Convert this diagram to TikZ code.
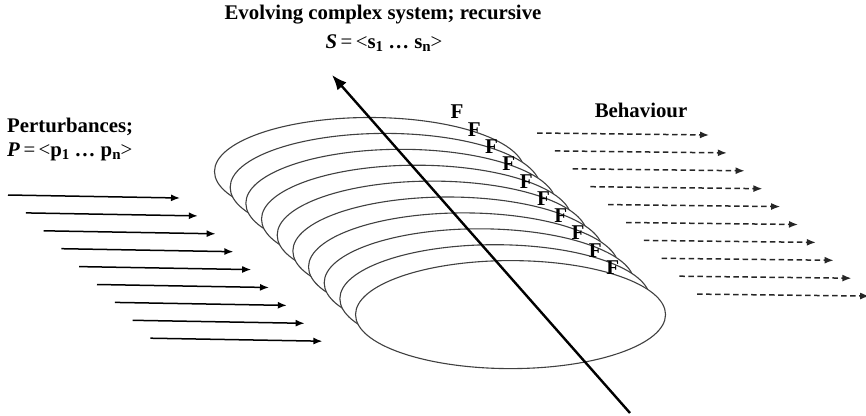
\documentclass[tikz,border=0pt]{standalone}
\usepackage{fontspec}
\setmainfont{Liberation Serif}
\usetikzlibrary{arrows.meta}
\newcommand{\mysub}[1]{\raisebox{-0.35ex}{\fontsize{15}{15}\selectfont #1}}
\begin{document}
\begin{tikzpicture}[x=1pt,y=-1pt,
  lbl/.style={inner sep=0pt,font=\fontsize{20.8}{22}\selectfont\bfseries},
  flbl/.style={inner sep=0pt,font=\fontsize{21}{22}\selectfont\bfseries},
  layer/.style={draw=black!75,line width=1.1pt,fill=white},
  pert/.style={draw=black,line width=1.5pt,-{Latex[length=9pt,width=7pt]}},
  behav/.style={draw=black!85,line width=1.5pt,dash pattern=on 5.5pt off 3.5pt,-{Latex[length=9pt,width=7pt]}},
  axis/.style={draw=black,line width=2.4pt,-{Latex[length=15pt,width=12pt]}}]
\useasboundingbox (0,0) rectangle (866,415);
% texts
\node[lbl] (title) at (383,15) {Evolving complex system; recursive};
\node[lbl] (sdef) at (384,43) {\textit{S}\,\mdseries=\,<\bfseries s\mysub{1} … s\mysub{n}\mdseries>};
\node[lbl,anchor=west] (pert) at (7,127) {Perturbances;};
\node[lbl,anchor=west] (pdef) at (7,152) {\textit{P}\,\mdseries=\,<\bfseries p\mysub{1} … p\mysub{n}\mdseries>};
\node[lbl] (behav) at (641,110) {Behaviour};
% stacked layers
\foreach \k in {0,...,9}{
  \path[layer] ({369.5+15.67*\k},{171.5+15.9*\k}) ellipse [x radius=155pt, y radius=54pt];
}
% F labels
\foreach \k in {0,...,9}{
  \node[flbl] (f\k) at ({457+17.3*\k},{112+17.3*\k}) {F};
}
% perturbance arrows
\foreach \i in {0,...,8}{
  \coordinate (pa\i) at ({8+17.8*\i},{195+17.9*\i});
  \coordinate (pb\i) at ({180+17.8*\i},{198+17.9*\i});
  \draw[pert] (pa\i) -- (pb\i);
}
% behaviour arrows
\foreach \i in {0,...,9}{
  \coordinate (ba\i) at ({537+17.8*\i},{133+17.9*\i});
  \coordinate (bb\i) at ({709+17.8*\i},{135+17.9*\i});
  \draw[behav] (ba\i) -- (bb\i);
}
% evolution axis
\coordinate (ax0) at (630,413);
\coordinate (ax1) at (332,75);
\draw[axis] (ax0) -- (ax1);
\end{tikzpicture}
\end{document}
